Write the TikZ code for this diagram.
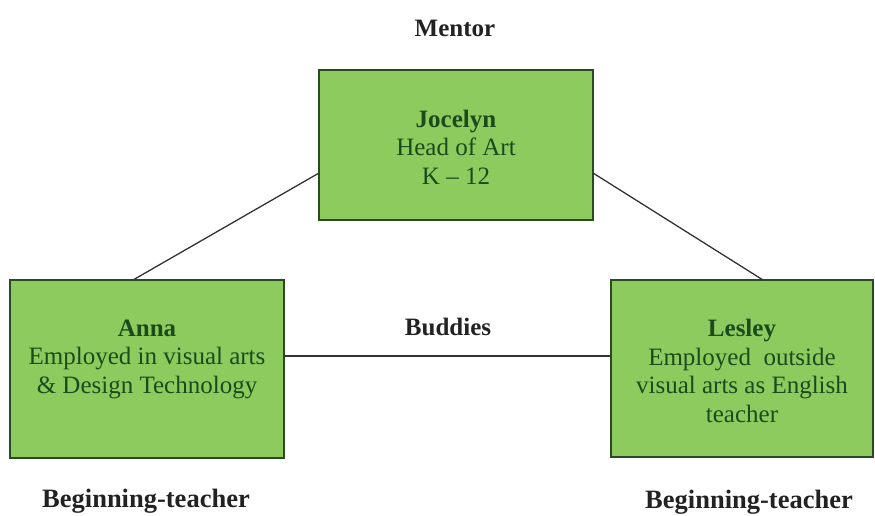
\documentclass[tikz,border=0pt]{standalone}
\usepackage{fontspec}
\setmainfont{Liberation Serif}
\begin{document}
\begin{tikzpicture}[x=1pt,y=-1pt,
  box/.style={draw=boxedge,fill=boxfill,line width=1.8pt,inner sep=0pt},
  boxtext/.style={text=boxink,align=center,font=\fontsize{25}{28.5}\selectfont},
  role/.style={text=roleink,font=\fontsize{25}{28.5}\selectfont\bfseries},
  bigrole/.style={role,font=\fontsize{26.5}{30}\selectfont\bfseries},
  link/.style={draw=linkink,line width=1.3pt}]
\definecolor{boxfill}{HTML}{8DCB5F}
\definecolor{boxedge}{HTML}{2A4A22}
\definecolor{boxink}{HTML}{1B4A1B}
\definecolor{roleink}{HTML}{222222}
\definecolor{linkink}{HTML}{333333}
\useasboundingbox (0,0) rectangle (875,516);

% boxes
\node[box,minimum width=274pt,minimum height=150pt] (joc) at (456,145) {};
\node[box,minimum width=274pt,minimum height=178pt] (anna) at (147,369) {};
\node[box,minimum width=262pt,minimum height=177pt] (les) at (742,368.5) {};

% box texts
\node[boxtext] (joct) at (456,147) {\textbf{Jocelyn}\\Head of Art\\K -- 12};
\node[boxtext] (annat) at (147,359) {\textbf{Anna}\\Employed in visual arts\\\& Design Technology};
\node[boxtext] (lest) at (742,371) {\textbf{Lesley}\\Employed\ \ outside\\visual arts as English\\teacher};

% connectors
\coordinate (jl) at (319,173);
\coordinate (jr) at (593,173);
\coordinate (at) at (133,280);
\coordinate (lt) at (763,280);
\draw[link] (jl) -- (at);
\draw[link] (jr) -- (lt);
\draw[link] (anna.east) ++(0,-13) coordinate (ae) -- (ae -| les.west);

% role labels
\node[role] (mentor) at (455,28) {Mentor};
\node[role] (buddies) at (448,327) {Buddies};
\node[bigrole] (bt1) at (146,501) {Beginning-teacher};
\node[bigrole] (bt2) at (749,502) {Beginning-teacher};
\end{tikzpicture}
\end{document}
